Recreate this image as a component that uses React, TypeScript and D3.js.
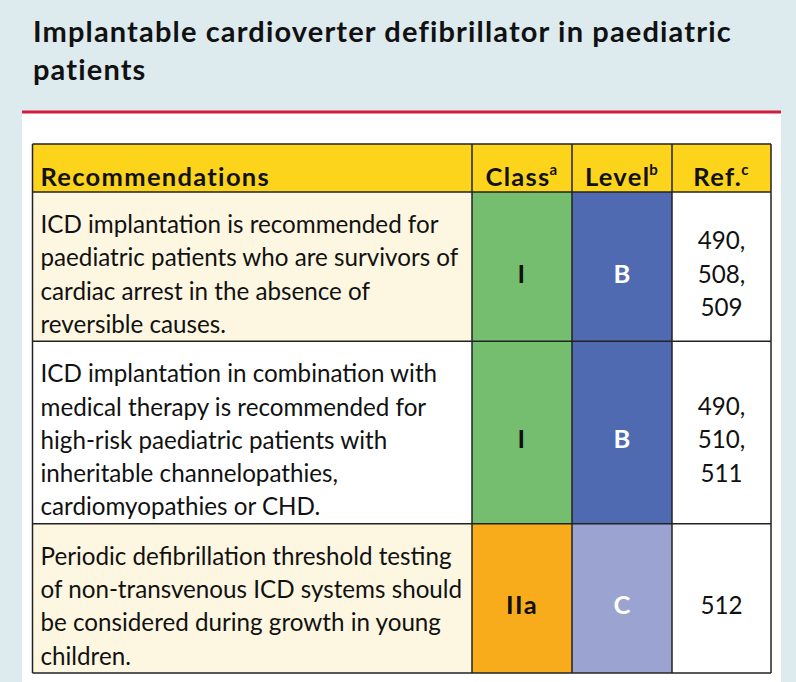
import React from "react";
import * as d3 from "d3";

const titleLines = ["Implantable cardioverter defibrillator in paediatric", "patients"];
const headers = [
  { label: "Recommendations", sup: "" },
  { label: "Class", sup: "a" },
  { label: "Level", sup: "b" },
  { label: "Ref.", sup: "c" },
];
const recommendations = [
  ["ICD implantation is recommended for", "paediatric patients who are survivors of", "cardiac arrest in the absence of", "reversible causes."],
  ["ICD implantation in combination with", "medical therapy is recommended for", "high-risk paediatric patients with", "inheritable channelopathies,", "cardiomyopathies or CHD."],
  ["Periodic defibrillation threshold testing", "of non-transvenous ICD systems should", "be considered during growth in young", "children."],
];
const classes = ["I", "I", "IIa"];
const levels = ["B", "B", "C"];
const refs = [["490,", "508,", "509"], ["490,", "510,", "511"], ["512"]];

const W = 796;
const H = 682;
const FONT = "Lato, 'Open Sans', sans-serif";

export default function App() {
  const colEdges = [32.5, 472, 572, 672, 771];
  const lineH = 33.3;
  const headerTop = 144;
  const headerH = 48;
  const rowHeights = recommendations.map((r) => r.length * lineH + 16);
  const rowTops: number[] = [];
  let acc = headerTop + headerH;
  rowHeights.forEach((h) => {
    rowTops.push(acc);
    acc += h;
  });
  const tableBottom = acc;

  const classColor = d3.scaleOrdinal<string, string>().domain(["I", "IIa", "IIb", "III"]).range(["#75bd6f", "#f8ac1c", "#f7e07a", "#e3342f"]);
  const levelColor = d3.scaleOrdinal<string, string>().domain(["A", "B", "C"]).range(["#30489a", "#506ab1", "#9ba3d0"]);
  const recBg = (i: number) => (i % 2 === 0 ? "#fdf6e0" : "#ffffff");

  const cx = (c: number) => (colEdges[c] + colEdges[c + 1]) / 2;

  return (
    <svg width={W} height={H} style={{ position: "absolute", left: 0, top: 0 }}>
      <rect x={0} y={0} width={W} height={H} fill="#ddebef" />
      <rect x={22} y={112} width={759} height={H - 112} fill="#ffffff" />
      <rect x={22} y={110.5} width={759} height={3} fill="#d21c3d" />
      {titleLines.map((t, i) => (
        <text key={i} x={33} y={42 + i * 38} fontFamily={FONT} fontWeight={700} fontSize={29} letterSpacing={1.15} fill="#111">
          {t}
        </text>
      ))}

      {/* header */}
      <rect x={colEdges[0]} y={headerTop} width={colEdges[4] - colEdges[0]} height={headerH} fill="#fdd41c" />
      {headers.map((h, i) => (
        <text
          key={i}
          x={i === 0 ? colEdges[0] + 8 : cx(i)}
          y={headerTop + 42}
          textAnchor={i === 0 ? "start" : "middle"}
          fontFamily={FONT}
          fontWeight={700}
          fontSize={25.5}
          letterSpacing={1.3}
          fill="#111"
        >
          {h.label}
          {h.sup && (
            <tspan fontSize={15} dy={-11} dx={-1}>
              {h.sup}
            </tspan>
          )}
        </text>
      ))}

      {recommendations.map((lines, r) => {
        const top = rowTops[r];
        const h = rowHeights[r];
        const mid = top + h / 2;
        return (
          <g key={r}>
            <rect x={colEdges[0]} y={top} width={colEdges[1] - colEdges[0]} height={h} fill={recBg(r)} />
            <rect x={colEdges[1]} y={top} width={colEdges[2] - colEdges[1]} height={h} fill={classColor(classes[r])} />
            <rect x={colEdges[2]} y={top} width={colEdges[3] - colEdges[2]} height={h} fill={levelColor(levels[r])} />
            <rect x={colEdges[3]} y={top} width={colEdges[4] - colEdges[3]} height={h} fill="#ffffff" />
            {lines.map((t, i) => (
              <text key={i} x={colEdges[0] + 8} y={top + 41 + i * lineH} fontFamily={FONT} fontSize={24.2} fill="#111">
                {t}
              </text>
            ))}
            <text x={cx(1)} y={mid + 16} textAnchor="middle" fontFamily={FONT} fontWeight={700} fontSize={25.5} letterSpacing={1.5} fill="#111">
              {classes[r]}
            </text>
            <text x={cx(2)} y={mid + 16} textAnchor="middle" fontFamily={FONT} fontWeight={700} fontSize={25.5} fill="#ffffff">
              {levels[r]}
            </text>
            {refs[r].map((t, i) => (
              <text
                key={i}
                x={cx(3)}
                y={mid + 16 + (i - (refs[r].length - 1) / 2) * lineH}
                textAnchor="middle"
                fontFamily={FONT}
                fontSize={24.2}
                fill="#111"
              >
                {t}
              </text>
            ))}
          </g>
        );
      })}

      {/* grid lines */}
      {[headerTop, headerTop + headerH, ...rowTops.slice(1), tableBottom].map((y, i) => (
        <line key={"h" + i} x1={colEdges[0]} x2={colEdges[4]} y1={y} y2={y} stroke="#222" strokeWidth={1.5} />
      ))}
      {colEdges.map((x, i) => (
        <line key={"v" + i} x1={x} x2={x} y1={headerTop} y2={tableBottom} stroke="#222" strokeWidth={1.5} />
      ))}
    </svg>
  );
}
